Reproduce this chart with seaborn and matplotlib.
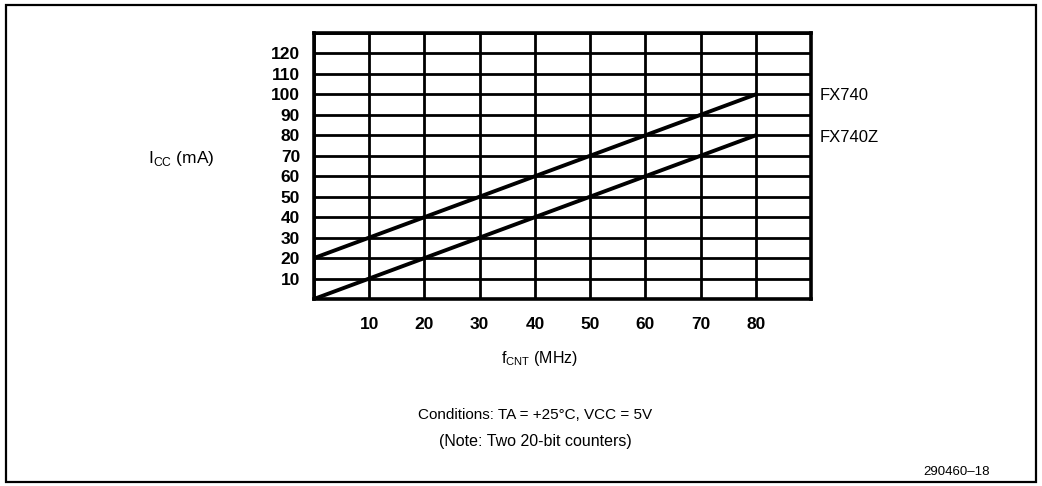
import pandas as pd
import matplotlib
matplotlib.use("Agg")
import matplotlib.pyplot as plt
import matplotlib.patches as patches
import seaborn as sns

# values
freq_mhz = [0, 80]
icc_fx740 = [20, 100]
icc_fx740z = [0, 80]
devices = ["FX740", "FX740Z"]
x_ticks = [10, 20, 30, 40, 50, 60, 70, 80]
y_ticks = [10, 20, 30, 40, 50, 60, 70, 80, 90, 100, 110, 120]

df = pd.DataFrame({
    "freq": freq_mhz + freq_mhz,
    "icc": icc_fx740 + icc_fx740z,
    "device": [devices[0]] * len(freq_mhz) + [devices[1]] * len(freq_mhz),
})

sns.set_theme(style="white")
plt.rcParams['font.family'] = ['Liberation Sans', 'DejaVu Sans']
plt.rcParams['text.color'] = 'black'
plt.rcParams['xtick.color'] = 'black'
plt.rcParams['ytick.color'] = 'black'

fig = plt.figure(figsize=(10.42, 4.86), dpi=100)
W, H = 1042, 486
ax = fig.add_axes([314 / W, 1 - 299 / H, (811 - 314) / W, (299 - 33) / H])

sns.lineplot(data=df, x="freq", y="icc", hue="device",
             palette=["black", "black"], linewidth=2.8, legend=False, ax=ax)

ax.set_xlim(0, 90)
ax.set_ylim(0, 130)
ax.set_xticks(range(0, 91, 10))
ax.set_yticks(range(0, 131, 10))
ax.grid(True, color="black", linewidth=2.0)
ax.set_axisbelow(True)
for s in ax.spines.values():
    s.set_color("black")
    s.set_linewidth(2.6)
ax.tick_params(length=0)

# only the numbered ticks get labels
ax.set_xticklabels([str(v) if v in x_ticks else "" for v in range(0, 91, 10)],
                   fontsize=12.5, fontweight="bold")
ax.set_yticklabels([str(v) if v in y_ticks else "" for v in range(0, 131, 10)],
                   fontsize=12.5, fontweight="bold")
ax.tick_params(axis="x", pad=13)
ax.tick_params(axis="y", pad=10)
ax.set_xlabel("")
ax.set_ylabel("")

# series labels at the right of the grid
ax.text(820 / W, 1 - 95 / H, devices[0], transform=fig.transFigure,
        fontsize=12, va="center", ha="left")
ax.text(820 / W, 1 - 137 / H, devices[1], transform=fig.transFigure,
        fontsize=12, va="center", ha="left")

fig.text(148 / W, 1 - 158 / H, r"I$_{\mathregular{CC}}$ (mA)", fontsize=12.5,
         va="center", ha="left")
fig.text(540 / W, 1 - 358 / H, r"f$_{\mathregular{CNT}}$ (MHz)", fontsize=11.5,
         va="center", ha="center")
fig.text(535 / W, 1 - 415 / H, "Conditions: TA = +25°C, VCC = 5V", fontsize=11,
         va="center", ha="center")
fig.text(535 / W, 1 - 441 / H, "(Note: Two 20-bit counters)", fontsize=11.5,
         va="center", ha="center")
fig.text(957 / W, 1 - 472 / H, "290460\u201318", fontsize=9.5,
         va="center", ha="center")

# outer frame of the figure
frame = patches.Rectangle((6 / W, 1 - 482 / H), (1036 - 6) / W, (482 - 5) / H,
                          transform=fig.transFigure, fill=False,
                          edgecolor="black", linewidth=1.6)
fig.patches.append(frame)

fig.savefig("out.png", dpi=100)
